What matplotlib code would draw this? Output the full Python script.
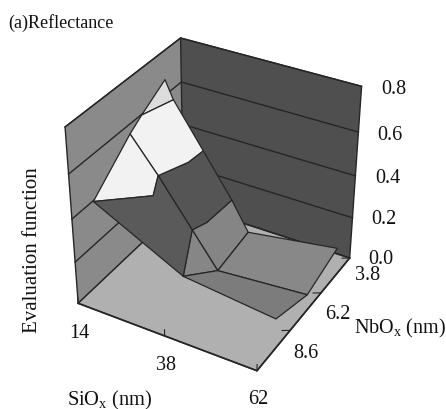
import numpy as np
import matplotlib
matplotlib.use("Agg")
import matplotlib.pyplot as plt
from mpl_toolkits.mplot3d.art3d import Poly3DCollection

plt.rcParams["font.family"] = ["Liberation Serif", "DejaVu Serif"]
plt.rcParams["mathtext.default"] = "regular"

# surface vertices
names = ["P00", "P10", "P20", "E1", "M0", "M1", "M2", "M3", "M4", "E2", "E3", "E4", "E5", "B0", "B1", "B2", "B3", "B4"]
siox = [14.0, 37.9, 62.0, 23.5, 14.0, 20.4, 29.7, 36.8, 62.0, 23.9, 29.0, 14.0, 14.6, 14.0, 23.0, 31.2, 36.0, 62.0]
nbox = [9.72, 9.70, 9.72, 8.12, 7.30, 7.04, 7.04, 7.04, 7.35, 5.82, 5.82, 6.52, 4.52, 4.92, 4.52, 4.52, 4.52, 5.00]
evalf = [0.396, 0.187, 0.143, 0.372, 0.556, 0.381, 0.173, 0.014, 0.077, 0.387, 0.123, 0.597, 0.559, 0.670, 0.359, 0.161, 0.026, 0.133]

faces = [
    ["P00", "E1", "M1", "M0"],
    ["M0", "E4", "E5", "B1", "E2", "M1"],
    ["E4", "B0", "E5"],
    ["P00", "E1", "M1", "M2", "P10"],
    ["M1", "E2", "B1", "B2", "E3", "M2"],
    ["M2", "E3", "B2", "B3", "M3"],
    ["P10", "M2", "M3"],
    ["P10", "M3", "M4", "P20"],
    ["M3", "B3", "B4", "M4"],
]
face_colors = ["#f2f2f2", "#f2f2f2", "#dcdcdc", "#5a5a5a", "#555555", "#858585", "#868686", "#7c7c7c", "#888888"]

si_ticks = [14, 38, 62]
nb_ticks = [3.8, 6.2, 8.6]
z_ticks = [0.0, 0.2, 0.4, 0.6, 0.8]
si_lim = (14, 62)
nb_lim = (11, 3.8)
z_lim = (0, 0.8)

line_col = "#262626"

fig = plt.figure(figsize=(4.46, 4.10), dpi=100)
ax = fig.add_axes([-11.4746 / 446, 1.4941 / 410, 1, 1], projection="3d")
ax.set_xlim(*si_lim)
ax.set_ylim(*nb_lim)
ax.set_zlim(*z_lim)
ax.view_init(elev=33.9629, azim=-60.1660)
ax.set_proj_type("persp", focal_length=0.5994)
ax.set_box_aspect((0.9898, 0.9938, 1), zoom=0.8540)
ax.computed_zorder = False
ax.patch.set_alpha(0)

ax.xaxis.set_pane_color("#8a8a8a")
ax.yaxis.set_pane_color("#4f4f4f")
ax.zaxis.set_pane_color("#b0b0b0")
for a in (ax.xaxis, ax.yaxis, ax.zaxis):
    a.pane.set_edgecolor(line_col)
    a.pane.set_linewidth(1.0)
    a.line.set_linewidth(0)
ax.grid(False)
ax.set_xticks([])
ax.set_yticks([])
ax.set_zticks([])

# wall lines
for z in z_ticks:
    ax.plot([si_lim[0], si_lim[0], si_lim[1]], [nb_lim[0], nb_lim[1], nb_lim[1]], [z, z, z],
            color=line_col, lw=1.0, zorder=2)
ax.plot([si_lim[0], si_lim[0]], [nb_lim[1], nb_lim[1]], z_lim, color=line_col, lw=1.0, zorder=2)

# floor edges and ticks
ax.plot([si_lim[0], si_lim[1], si_lim[1]], [nb_lim[0], nb_lim[0], nb_lim[1]], [0, 0, 0], color=line_col, lw=1.2, zorder=3)
for v in si_ticks:
    ax.plot([v, v], [nb_lim[0], nb_lim[0]], [0, 0.03], color=line_col, lw=0.8, zorder=3)
for v in nb_ticks:
    ax.plot([si_lim[1], si_lim[1] - 1.6], [v, v + 0.15], [0, 0], color=line_col, lw=0.8, zorder=3)

idx = {n: i for i, n in enumerate(names)}
polys = [[(siox[idx[n]], nbox[idx[n]], evalf[idx[n]]) for n in f] for f in faces]
surf = Poly3DCollection(polys, facecolors=face_colors, edgecolors=line_col, linewidths=0.9, zsort="average", zorder=5)
ax.add_collection3d(surf)
ax.set_xlim(*si_lim)
ax.set_ylim(*nb_lim)
ax.set_zlim(*z_lim)


def label(px, py, s, size=14.5, **kw):
    kw.setdefault("ha", "center")
    fig.text(px / 446, 1 - py / 410, s, va="center", fontsize=size, color="#111111", **kw)


label(8, 23, "(a)Reflectance", size=13, ha="left")
for v, pos in zip(z_ticks, [(381, 260), (384, 220), (388, 179), (390, 136), (394, 90)]):
    label(pos[0], pos[1], f"{v:.1f}")
for v, pos in zip(nb_ticks, [(368, 276), (338, 315), (306, 354)]):
    label(pos[0], pos[1], f"{v:.1f}")
for v, pos in zip(si_ticks, [(79, 333), (166, 366), (258, 400)]):
    label(pos[0], pos[1], str(v))
label(33, 250, "Evaluation function", size=15, rotation=90)
label(110, 400, "SiO$_{x}$ (nm)", size=14.7)
label(400, 328, "NbO$_{x}$ (nm)", size=14.5)

fig.savefig("out.png", dpi=100)
